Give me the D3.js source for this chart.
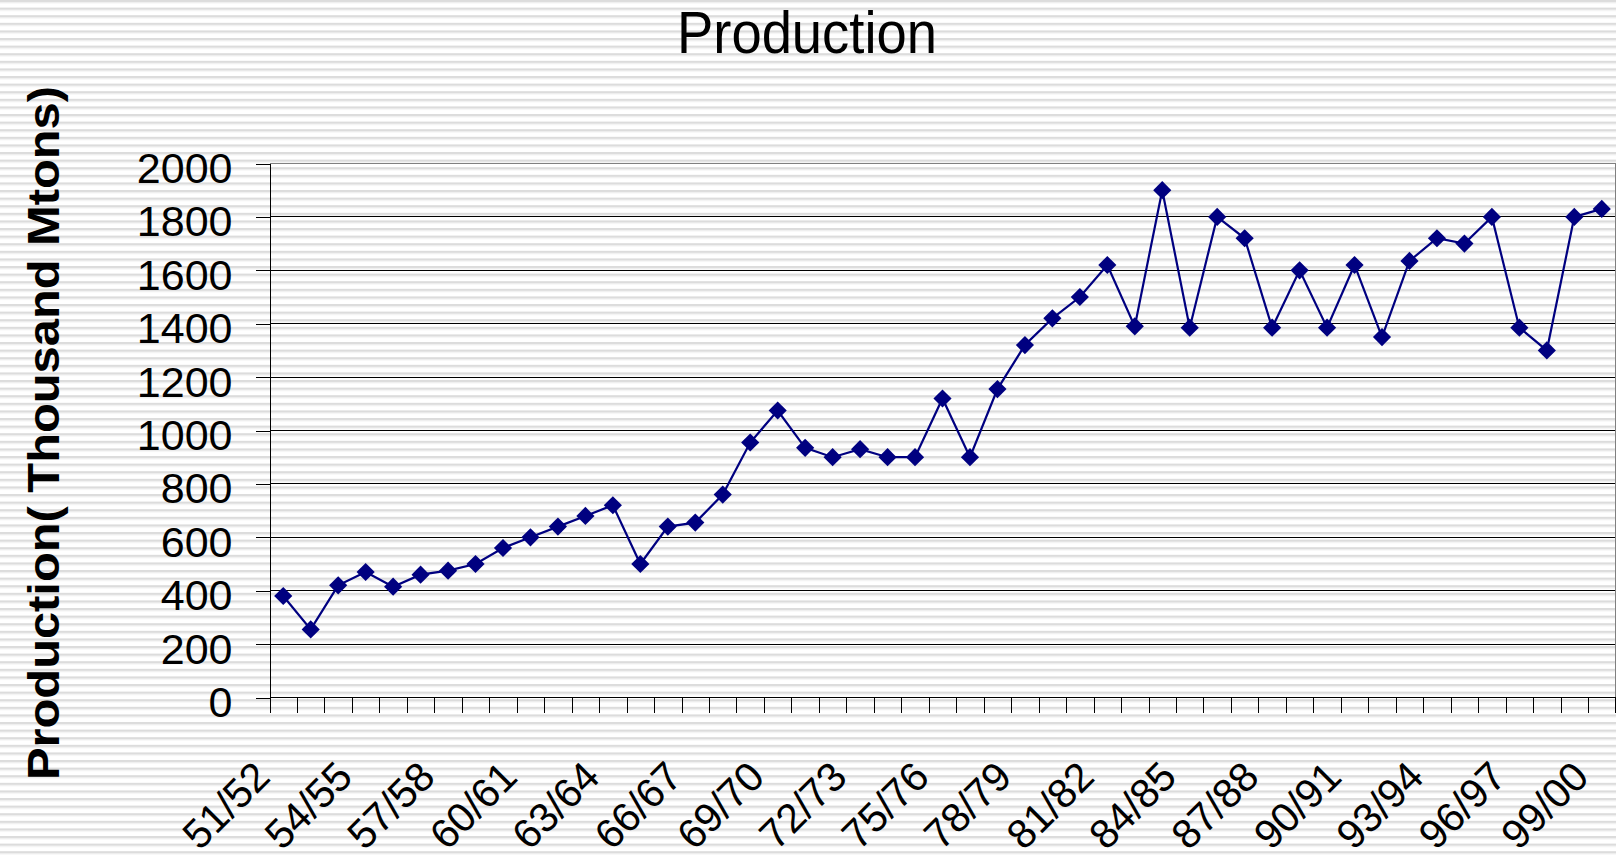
<!DOCTYPE html>
<html>
<head>
<meta charset="utf-8">
<script src="https://cdn.jsdelivr.net/npm/d3@7"></script>
<style>
html,body{margin:0;padding:0;background:#fff;}
svg{display:block;}
text{font-family:"Liberation Sans",Arial,sans-serif;fill:#000;}
</style>
</head>
<body>
<svg id="chart" width="1616" height="856"></svg>
<script>
var categories = ["51/52","52/53","53/54","54/55","55/56","56/57","57/58","58/59","59/60","60/61",
	"61/62","62/63","63/64","64/65","65/66","66/67","67/68","68/69","69/70","70/71",
	"71/72","72/73","73/74","74/75","75/76","76/77","77/78","78/79","79/80","80/81",
	"81/82","82/83","83/84","84/85","85/86","86/87","87/88","88/89","89/90","90/91",
	"91/92","92/93","93/94","94/95","95/96","96/97","97/98","98/99","99/00"];
var production = [380,255,420,470,415,460,475,500,560,600,
	640,680,720,500,640,655,760,955,1075,935,
	900,930,900,900,1120,900,1155,1320,1420,1500,
	1620,1390,1900,1385,1800,1720,1385,1600,1385,1620,
	1350,1635,1720,1700,1800,1385,1300,1800,1830];
var xTickLabels = ["51/52","54/55","57/58","60/61","63/64","66/67","69/70","72/73","75/76",
	"78/79","81/82","84/85","87/88","90/91","93/94","96/97","99/00"];
var yTicks = [0,200,400,600,800,1000,1200,1400,1600,1800,2000];

(function(){
	var W = 1616, H = 856;
	var pLeft = 269.5, pRight = 1615.5, pTop = 163.5, pBottom = 697.5;

	var svg = d3.select("#chart");
	var defs = svg.append("defs");

	var pat = defs.append("pattern")
		.attr("id","stripes")
		.attr("patternUnits","userSpaceOnUse")
		.attr("width",16).attr("height",7.6);
	pat.append("rect").attr("width",16).attr("height",7.6).attr("fill","#fff");
	pat.append("rect").attr("y",0).attr("width",16).attr("height",2).attr("fill","#dcdcdc");
	pat.append("rect").attr("y",2).attr("width",16).attr("height",1.2).attr("fill","#ededed");

	svg.append("rect").attr("width",W).attr("height",H).attr("fill","url(#stripes)");

	var x = d3.scaleBand().domain(categories).range([pLeft,pRight]).paddingInner(0).paddingOuter(0);
	var y = d3.scaleLinear().domain([0,2000]).range([pBottom,pTop]);

	// gridlines
	svg.append("g").attr("class","grid")
		.selectAll("line").data(yTicks.filter(function(d){return d>0;})).enter()
		.append("line")
		.attr("x1",pLeft).attr("x2",pRight)
		.attr("y1",function(d){return y(d);}).attr("y2",function(d){return y(d);})
		.attr("stroke",function(d){return d===2000?"#808080":"#000";})
		.attr("stroke-width",1)
		.attr("shape-rendering","crispEdges");

	// right border of plot area
	svg.append("line")
		.attr("x1",pRight).attr("x2",pRight).attr("y1",pTop).attr("y2",pBottom)
		.attr("stroke","#808080").attr("shape-rendering","crispEdges");

	// y axis
	var yAxis = d3.axisLeft(y).tickValues(yTicks).tickFormat(d3.format("d")).tickSize(14).tickPadding(23);
	var gy = svg.append("g").attr("transform","translate("+pLeft+",0)").call(yAxis);
	gy.select(".domain").attr("stroke","#000").attr("shape-rendering","crispEdges");
	gy.selectAll(".tick line").attr("stroke","#000").attr("shape-rendering","crispEdges");
	gy.selectAll(".tick text")
		.attr("font-size","43px")
		.attr("font-family","\"Liberation Sans\",Arial,sans-serif")
		.attr("fill","#000")
		.attr("dy",null)
		.attr("y",19);

	// x axis, ticks on category boundaries
	svg.append("line")
		.attr("x1",pLeft).attr("x2",pRight).attr("y1",pBottom).attr("y2",pBottom)
		.attr("stroke","#000").attr("shape-rendering","crispEdges");
	var bounds = categories.map(function(c){return x(c);})
		.concat([x(categories[categories.length-1])+x.bandwidth()]);
	svg.append("g").selectAll("line").data(bounds).enter()
		.append("line")
		.attr("x1",function(d){return Math.round(d)+0.5;}).attr("x2",function(d){return Math.round(d)+0.5;})
		.attr("y1",pBottom).attr("y2",pBottom+15)
		.attr("stroke","#000").attr("shape-rendering","crispEdges");

	svg.append("g").selectAll("text").data(xTickLabels).enter()
		.append("text")
		.attr("font-size","41px")
		.attr("text-anchor","end")
		.attr("transform",function(d){
			var cx = x(d)+x.bandwidth()/2-11;
			return "translate("+cx+",779) rotate(-45)";
		})
		.text(function(d){return d;});

	// series
	var line = d3.line()
		.x(function(d,i){return x(categories[i])+x.bandwidth()/2;})
		.y(function(d){return y(d);});
	svg.append("path")
		.datum(production)
		.attr("d",line)
		.attr("fill","none")
		.attr("stroke","#000080")
		.attr("stroke-width",2.2);

	var marker = d3.symbol().type(d3.symbolSquare).size(165);
	svg.append("g").selectAll("path").data(production).enter()
		.append("path")
		.attr("d",marker)
		.attr("transform",function(d,i){
			return "translate("+(x(categories[i])+x.bandwidth()/2)+","+y(d)+") rotate(45)";
		})
		.attr("fill","#000080");

	// titles
	svg.append("text")
		.attr("x",807).attr("y",53)
		.attr("text-anchor","middle")
		.attr("font-size","60px")
		.attr("textLength",260)
		.attr("lengthAdjust","spacingAndGlyphs")
		.text("Production");

	svg.append("text")
		.attr("transform","translate(59,433) rotate(-90)")
		.attr("text-anchor","middle")
		.attr("font-size","44px")
		.attr("font-weight","bold")
		.attr("textLength",694)
		.attr("lengthAdjust","spacingAndGlyphs")
		.text("Production( Thousand Mtons)");
})();
</script>
</body>
</html>
